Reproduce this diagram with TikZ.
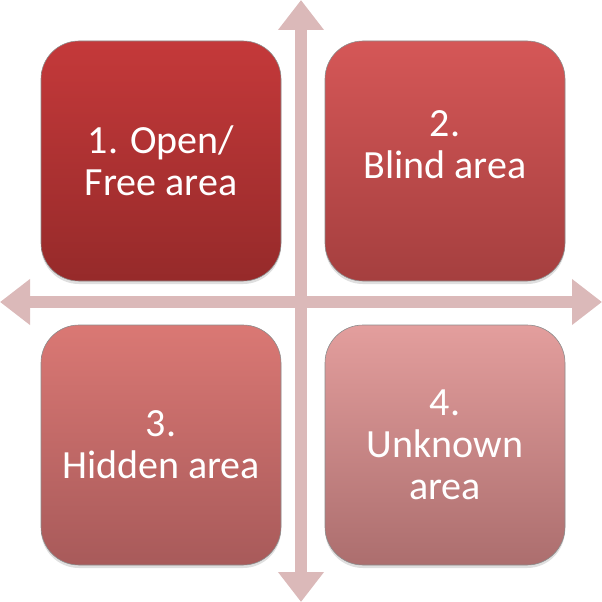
\documentclass[tikz,border=0pt]{standalone}
\usepackage{fontspec}
\setmainfont{Carlito}
\usetikzlibrary{arrows.meta,positioning,shadows}

\definecolor{axisfill}{HTML}{DBB9B9}
\definecolor{qonetop}{HTML}{C4393A}
\definecolor{qonebot}{HTML}{962A2A}
\definecolor{qtwotop}{HTML}{D55757}
\definecolor{qtwobot}{HTML}{A53F3F}
\definecolor{qthreetop}{HTML}{DA7874}
\definecolor{qthreebot}{HTML}{A85A5A}
\definecolor{qfourtop}{HTML}{E39E9D}
\definecolor{qfourbot}{HTML}{AC6E6E}

\begin{document}
\begin{tikzpicture}[x=1pt,y=-1pt,node distance=284pt]
      \tikzstyle{quadtext} = [text=white, align=center, font=\fontsize{40}{42}\selectfont]
      \tikzstyle{quadrant} = [quadtext, rectangle, rounded corners=38pt, minimum width=240pt, minimum height=240pt, draw=black!45, line width=0.6pt,
        drop shadow={opacity=0.25, shadow xshift=0pt, shadow yshift=-3pt},
        append after command={[draw=white, opacity=0.35, line width=2pt, rounded corners=33pt]
          ([shift={(6pt,-6pt)}]\tikzlastnode.north west) rectangle ([shift={(-6pt,6pt)}]\tikzlastnode.south east)}]
      \tikzstyle{axis} = [axisfill, line width=12pt, {Triangle[length=30pt,width=44pt]}-{Triangle[length=30pt,width=44pt]}]

      \useasboundingbox (0,0) rectangle (602,602);

      \coordinate (top) at (301,0);
      \coordinate (bottom) at (301,602);
      \coordinate (left) at (0,302);
      \coordinate (right) at (602,302);

      \draw [axis] (top) -- (bottom);
      \draw [axis] (left) -- (right);

      \node (q1) [quadrant, top color=qonetop, bottom color=qonebot] at (161,161) {1. Open/\\Free area};
      \node (q2) [quadrant, top color=qtwotop, bottom color=qtwobot, right of=q1,
        label={[quadtext, yshift=16pt]center:{2.\\Blind area}}] {};
      \node (q3) [quadrant, top color=qthreetop, bottom color=qthreebot, below of=q1] {3.\\Hidden area};
      \node (q4) [quadrant, top color=qfourtop, bottom color=qfourbot, right of=q3] {4.\\Unknown\\area};
\end{tikzpicture}
\end{document}
